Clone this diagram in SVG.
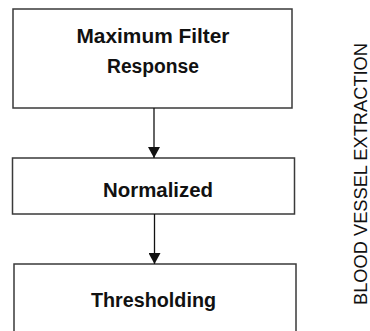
<svg xmlns="http://www.w3.org/2000/svg" width="370" height="331" viewBox="0 0 370 331">
<style>
.box{fill:#fff;stroke:#3a3a3a;stroke-width:1.5}
.lbl{font-family:"Liberation Sans",Arial,sans-serif;font-weight:bold;font-size:19.5px;fill:#111;text-anchor:middle}
.side{font-family:"Liberation Sans",Arial,sans-serif;font-size:18px;fill:#111;text-anchor:middle}
.con{stroke:#111;stroke-width:1.3;fill:none}
</style>
<defs>
<marker id="ah" markerWidth="11" markerHeight="12" refX="11" refY="6" orient="auto" markerUnits="userSpaceOnUse">
<path d="M0,0 L11,6 L0,12 Z" fill="#111"/>
</marker>
</defs>
<rect width="370" height="331" fill="#fff"/>
<g id="node-max">
<rect class="box" x="13" y="9" width="279" height="99"/>
<text class="lbl" x="153" y="43" textLength="153" lengthAdjust="spacingAndGlyphs">Maximum Filter</text>
<text class="lbl" x="153" y="73" textLength="92" lengthAdjust="spacingAndGlyphs">Response</text>
</g>
<g id="node-norm">
<rect class="box" x="12.5" y="158" width="282" height="56"/>
<text class="lbl" x="158" y="197" textLength="110" lengthAdjust="spacingAndGlyphs">Normalized</text>
</g>
<g id="node-thresh">
<rect class="box" x="14" y="264" width="282" height="80"/>
<text class="lbl" x="153.5" y="307" textLength="125" lengthAdjust="spacingAndGlyphs">Thresholding</text>
</g>
<g id="side-label">
<text class="side" transform="translate(367,174) rotate(-90)" textLength="262" lengthAdjust="spacingAndGlyphs">BLOOD VESSEL EXTRACTION</text>
</g>
<g id="connectors">
<line class="con" x1="154" y1="108" x2="154" y2="158" marker-end="url(#ah)"/>
<line class="con" x1="154.5" y1="214" x2="154.5" y2="264" marker-end="url(#ah)"/>
</g>
</svg>
